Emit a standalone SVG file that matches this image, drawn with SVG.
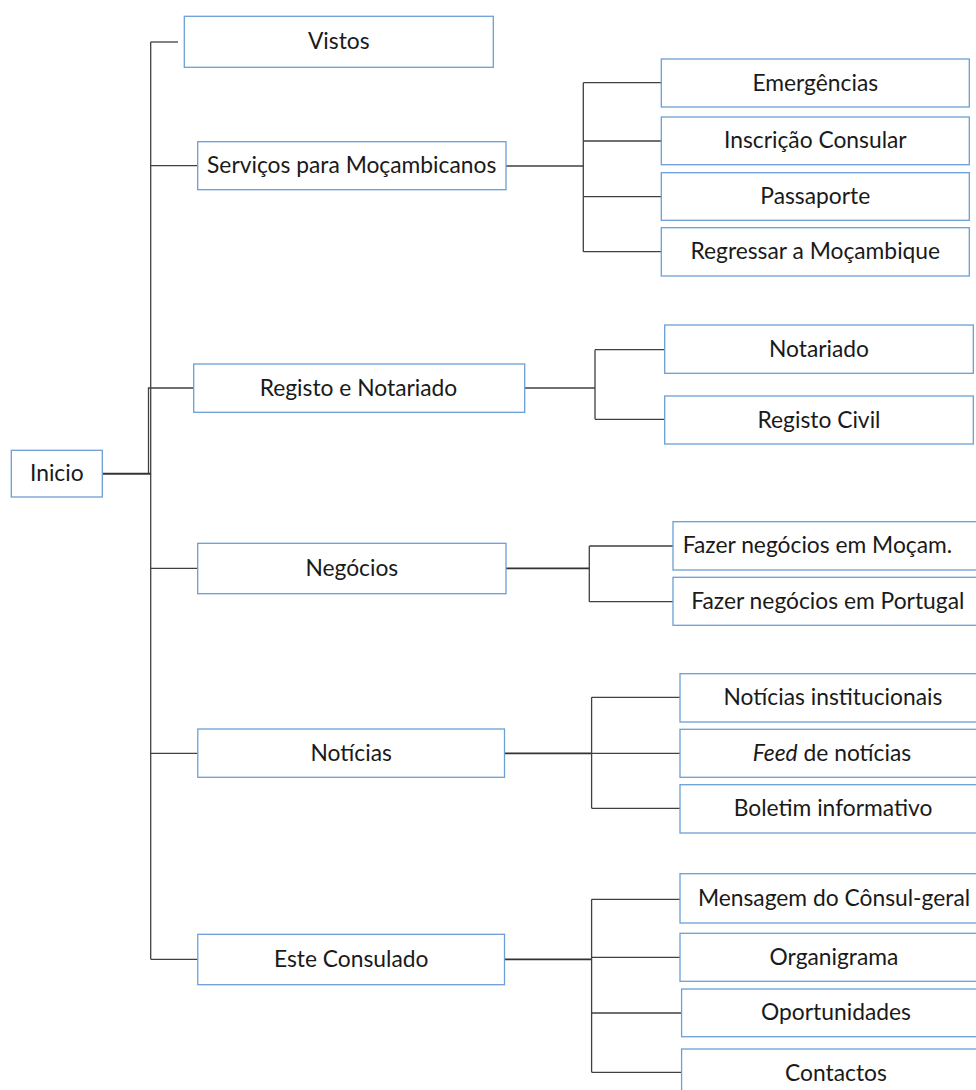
<svg xmlns="http://www.w3.org/2000/svg" width="976" height="1090" viewBox="0 0 976 1090">
<style>
.box{fill:#ffffff;stroke:#6a9fd8;stroke-width:1.3}
.t{font-family:Lato,"Liberation Sans",sans-serif;font-size:22.8px;fill:#1a1a1a;text-anchor:middle}
.c{fill:none;stroke:#404040;stroke-width:1.3}
.ct{fill:none;stroke:#333333;stroke-width:1.8}
</style>
<rect width="976" height="1090" fill="#ffffff"/>
<g id="connectors">
<path class="c" d="M150.7,42 V959.3"/>
<path class="c" d="M150.7,42 H178"/>
<path class="c" d="M150.7,165.7 H197.7"/>
<path class="ct" d="M102.3,473.7 H150.7" style="stroke-width:2"/>
<path class="c" d="M148.5,473.7 V388 H193.7"/>
<path class="c" d="M150.7,568.3 H197.7"/>
<path class="c" d="M150.7,753.3 H197.8"/>
<path class="c" d="M150.7,959.3 H197.8"/>
<path class="c" d="M506,166 H583.3"/>
<path class="c" d="M583.3,82.7 V251.7 M583.3,82.7 H661.3 M583.3,141 H661.3 M583.3,196.7 H661.3 M583.3,251.7 H661.3"/>
<path class="c" d="M524.7,388 H595"/>
<path class="c" d="M595,349.7 V419.3 M595,349.7 H664.7 M595,419.3 H664.7"/>
<path class="ct" d="M506,568.3 H589.3"/>
<path class="c" d="M589.3,546 V601.7 M589.3,546 H673 M589.3,601.7 H673"/>
<path class="ct" d="M504.5,753.3 H591.6"/>
<path class="c" d="M591.6,697.3 V808.3 M591.6,697.3 H680 M591.6,753.3 H680 M591.6,808.3 H680"/>
<path class="ct" d="M504.5,959.3 H591.6"/>
<path class="c" d="M591.6,899.3 V1072.3 M591.6,899.3 H680 M591.6,957.3 H680 M591.6,1013 H681.6 M591.6,1072.3 H681.6"/>
</g>
<g id="inicio"><rect class="box" x="11.3" y="450.3" width="91" height="46.7"/><text class="t" x="56.8" y="481.2">Inicio</text></g>
<g id="vistos"><rect class="box" x="184.3" y="16.3" width="309" height="51"/><text class="t" x="338.8" y="49.3">Vistos</text></g>
<g id="servicos"><rect class="box" x="197.7" y="141.7" width="308.3" height="48"/><text class="t" x="351.7" y="173.2">Serviços para Moçambicanos</text></g>
<g id="emergencias"><rect class="box" x="661.3" y="59" width="308" height="48"/><text class="t" x="815.3" y="90.5">Emergências</text></g>
<g id="inscricao"><rect class="box" x="661.3" y="117" width="308" height="47.7"/><text class="t" x="815.3" y="148.3">Inscrição Consular</text></g>
<g id="passaporte"><rect class="box" x="661.3" y="172.7" width="308" height="47.6"/><text class="t" x="815.3" y="204">Passaporte</text></g>
<g id="regressar"><rect class="box" x="661.3" y="227.7" width="308" height="48.3"/><text class="t" x="815.3" y="259.3">Regressar a Moçambique</text></g>
<g id="registo-notariado"><rect class="box" x="193.7" y="364" width="331" height="48.3"/><text class="t" x="358.5" y="395.7">Registo e Notariado</text></g>
<g id="notariado"><rect class="box" x="664.7" y="325" width="308.6" height="48.3"/><text class="t" x="819" y="356.7">Notariado</text></g>
<g id="registo-civil"><rect class="box" x="664.7" y="396" width="308.6" height="48"/><text class="t" x="819" y="427.5">Registo Civil</text></g>
<g id="negocios"><rect class="box" x="197.7" y="543.3" width="308.3" height="50.4"/><text class="t" x="351.8" y="576">Negócios</text></g>
<g id="fazer-mocam"><rect class="box" x="673" y="521.7" width="315" height="48.3"/><text class="t" x="817.5" y="553.3">Fazer negócios em Moçam.</text></g>
<g id="fazer-portugal"><rect class="box" x="673" y="577.3" width="315" height="48"/><text class="t" x="827.8" y="608.8">Fazer negócios em Portugal</text></g>
<g id="noticias"><rect class="box" x="197.8" y="729" width="306.7" height="48.3"/><text class="t" x="351.2" y="760.7">Notícias</text></g>
<g id="noticias-inst"><rect class="box" x="680" y="673.7" width="309" height="48.3"/><text class="t" x="833" y="705.3">Notícias institucionais</text></g>
<g id="feed"><rect class="box" x="680" y="729.3" width="309" height="48"/><text class="t" x="832" y="760.8"><tspan font-style="italic">Feed</tspan> de notícias</text></g>
<g id="boletim"><rect class="box" x="680" y="784.7" width="309" height="48.3"/><text class="t" x="833" y="816.3">Boletim informativo</text></g>
<g id="este-consulado"><rect class="box" x="197.8" y="934.3" width="306.7" height="50.4"/><text class="t" x="351.2" y="967">Este Consulado</text></g>
<g id="mensagem"><rect class="box" x="680" y="873.7" width="309" height="49.3"/><text class="t" x="834" y="905.8">Mensagem do Cônsul-geral</text></g>
<g id="organigrama"><rect class="box" x="680" y="933.3" width="309" height="48"/><text class="t" x="834" y="964.8">Organigrama</text></g>
<g id="oportunidades"><rect class="box" x="681.6" y="989" width="309" height="47.7"/><text class="t" x="836" y="1020.3">Oportunidades</text></g>
<g id="contactos"><rect class="box" x="681.6" y="1049" width="309" height="48"/><text class="t" x="836" y="1080.7">Contactos</text></g>
</svg>
